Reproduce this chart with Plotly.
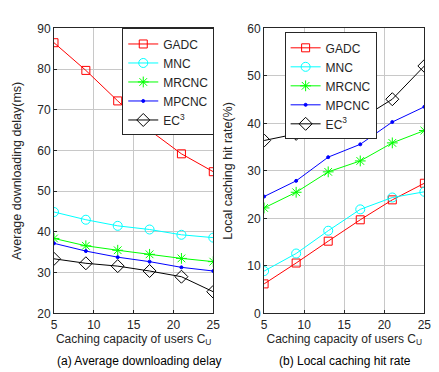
import plotly.graph_objects as go

x_vals = [5, 9, 13, 17, 21, 25]
series_names = ["GADC", "MNC", "MRCNC", "MPCNC", "EC<sup>3</sup>"]

delay_gadc = [86.5, 79.7, 72.2, 65.0, 59.2, 54.8]
delay_mnc = [44.9, 43.0, 41.5, 40.6, 39.3, 38.6]
delay_mrcnc = [38.4, 36.6, 35.5, 34.5, 33.5, 32.7]
delay_mpcnc = [37.2, 35.3, 33.8, 32.7, 31.3, 30.4]
delay_ec3 = [33.4, 32.3, 31.6, 30.4, 29.0, 25.3]

hit_gadc = [6.2, 10.6, 15.2, 19.7, 23.9, 27.4]
hit_mnc = [8.9, 12.6, 17.4, 21.9, 24.4, 25.6]
hit_mrcnc = [22.2, 25.5, 29.8, 32.1, 35.9, 38.5]
hit_mpcnc = [24.6, 27.9, 32.9, 35.6, 40.3, 43.5]
hit_ec3 = [36.4, 37.8, 38.5, 40.9, 45.1, 52.1]

styles = [
    dict(color="#ff0000", symbol="square-open", size=8),
    dict(color="#00ffff", symbol="circle-open", size=9),
    dict(color="#00ff00", symbol="asterisk-open", size=9),
    dict(color="#0000ff", symbol="circle", size=3),
    dict(color="#000000", symbol="diamond-open", size=10),
]

fig = go.Figure()
left = [delay_gadc, delay_mnc, delay_mrcnc, delay_mpcnc, delay_ec3]
right = [hit_gadc, hit_mnc, hit_mrcnc, hit_mpcnc, hit_ec3]
for name, ys, st in zip(series_names, left, styles):
    fig.add_trace(go.Scatter(
        x=x_vals, y=ys, name=name, mode="lines+markers",
        line=dict(color=st["color"], width=1),
        marker=dict(symbol=st["symbol"], size=st["size"], color=st["color"],
                    line=dict(color=st["color"], width=1)),
        xaxis="x", yaxis="y", legend="legend"))
for name, ys, st in zip(series_names, right, styles):
    fig.add_trace(go.Scatter(
        x=x_vals, y=ys, name=name, mode="lines+markers",
        line=dict(color=st["color"], width=1),
        marker=dict(symbol=st["symbol"], size=st["size"], color=st["color"],
                    line=dict(color=st["color"], width=1)),
        xaxis="x2", yaxis="y2", legend="legend2"))

font_main = "Liberation Sans, Arial, sans-serif"
axis_common = dict(
    showline=True, linecolor="#262626", linewidth=1, mirror=True,
    showgrid=True, gridcolor="#c8c8c8", gridwidth=1,
    ticks="inside", ticklen=3, tickcolor="#262626",
    tickfont=dict(family=font_main, size=12, color="#262626"),
    zeroline=False,
)

H = 372.0
W = 439.0
ydom = [1 - 310 / H, 1 - 14 / H]

fig.update_layout(
    width=439, height=372,
    margin=dict(l=0, r=0, t=0, b=0),
    paper_bgcolor="white", plot_bgcolor="white",
    font=dict(family=font_main, size=12, color="#262626"),
    xaxis=dict(axis_common, domain=[44 / W, 207 / W], range=[5, 25],
               tickvals=[5, 10, 15, 20, 25], anchor="y",
               title=dict(text="Caching capacity of users C<sub>U</sub>",
                          font=dict(size=12, color="#262626"), standoff=2)),
    yaxis=dict(axis_common, domain=ydom, range=[20, 90],
               tickvals=[20, 30, 40, 50, 60, 70, 80, 90], anchor="x",
               title=dict(text="Average downloading delay(ms)",
                          font=dict(size=12.5, color="#262626"), standoff=12)),
    xaxis2=dict(axis_common, domain=[259 / W, 423 / W], range=[5, 25],
                tickvals=[5, 10, 15, 20, 25], anchor="y2",
                title=dict(text="Caching capacity of users C<sub>U</sub>",
                           font=dict(size=12, color="#262626"), standoff=2)),
    yaxis2=dict(axis_common, domain=ydom, range=[0, 60],
                tickvals=[0, 10, 20, 30, 40, 50, 60], anchor="x2",
                title=dict(text="Local caching hit rate(%)",
                           font=dict(size=12.5, color="#262626"), standoff=11)),
    legend=dict(x=208 / W, xanchor="right", y=1 - 14 / H, yanchor="top",
                bgcolor="white", bordercolor="#262626", borderwidth=1,
                font=dict(size=12, color="#262626"), tracegroupgap=0,
                itemwidth=30),
    legend2=dict(x=280 / W, xanchor="left", y=1 - 18 / H, yanchor="top",
                 bgcolor="white", bordercolor="#262626", borderwidth=1,
                 font=dict(size=12, color="#262626"), tracegroupgap=0,
                 itemwidth=30),
    annotations=[
        dict(text="(a) Average downloading delay", x=131 / W, y=1 - 360 / H,
             xref="paper", yref="paper", xanchor="center", yanchor="middle",
             showarrow=False, font=dict(size=12, color="#000000")),
        dict(text="(b) Local caching hit rate", x=342 / W, y=1 - 360 / H,
             xref="paper", yref="paper", xanchor="center", yanchor="middle",
             showarrow=False, font=dict(size=12, color="#000000")),
    ],
)

fig.write_html("out.html")
